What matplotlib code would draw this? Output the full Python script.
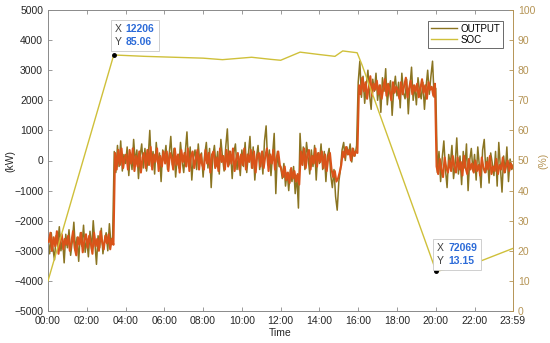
import numpy as np
import matplotlib
matplotlib.use('Agg')
import matplotlib.pyplot as plt
from matplotlib.offsetbox import TextArea, HPacker, VPacker, AnnotationBbox

plt.rcParams['font.family'] = ['Liberation Sans', 'DejaVu Sans']

# ---------------- data ----------------
SAMPLE_S = 300  # 5-minute samples

# OUTPUT (kW), one row per hour, 12 samples each
output_kw = [
    -2650, -3100, -2400, -2900, -3300, -2500, -2800, -2200, -3000, -2600, -3400, -2450,
    -2900, -2300, -3150, -2700, -2050, -3000, -2550, -3350, -2400, -2850, -2150, -3050,
    -2600, -3200, -2350, -2950, -2000, -2750, -3450, -2500, -2900, -2250, -3100, -2650,
    -2400, -3000, -2100, -2800, -2550, 300, -400, 500, -200, 650, -350, 200,
    -100, 450, -500, 250, -300, 700, -50, 350, -600, 150, 550, -250,
    400, -350, 100, 1000, -200, 300, -450, 600, -100, 250, -700, 350,
    50, 500, -300, 200, 800, -150, 400, -550, 150, -250, 600, 0,
    -400, 300, 950, -200, 450, -650, 100, 350, -300, 550, -100, 250,
    -550, 200, 600, -250, 400, -900, 150, 500, -200, 300, -450, 700,
    100, -350, 450, 1050, -150, 300, -600, 250, 550, -300, 150, -500,
    350, -200, 600, -400, 200, 800, -250, 450, -650, 100, 500, -300,
    250, -450, 650, 1150, -150, 350, -500, 200, 900, -1100, 300, -200,
    -200, -600, -100, -850, -400, -1000, -300, -700, -200, -1100, -500, -1580,
    900, -100, 450, -300, 600, 100, -450, 350, -200, 500, -650, 250,
    -100, 550, -300, 300, -700, 150, 400, -500, -900, -300, -1200, -1650,
    -700, -300, 350, 600, 0, 450, 200, 550, -50, 400, 150, 500,
    2600, 3300, 2100, 2800, 1900, 2500, 3000, 2200, 1700, 2700, 2300, 2900,
    2000, 2500, 1600, 2750, 2300, 3050, 1850, 2400, 2650, 1500, 2350, 2800,
    2150, 2600, 1750, 2900, 2250, 2050, 2700, 1550, 2450, 3100, 2000, 2500,
    1850, 2750, 2300, 2050, 2600, 1700, 2450, 3000, 2200, 2800, 3300, 2100,
    2400, -400, 300, -700, 100, 650, -300, -900, 200, -150, 500, -600,
    -100, 750, -450, 150, -800, 300, -250, 550, -1000, 0, 400, -350,
    200, -650, 450, -200, -900, 350, 700, -400, 100, -750, 250, -100,
    -500, 300, -850, 600, -200, -1050, 150, -400, 450, -700, 50, -300,
    -150,
]

# second (red) trace, samples offset by half a step
output_ref_kw = [
    -2700, -2400, -3000, -2550, -2850, -2350, -3100, -2650, -2450, -2950, -2600, -2800,
    -2500, -3000, -2700, -2350, -2900, -3150, -2550, -2800, -2400, -3050, -2650, -2450,
    -2900, -2500, -2750, -3100, -2400, -2850, -2600, -3000, -2350, -2700, -2950, -2500,
    -2750, -2450, -2950, -2600, -2800, 250, -300, 350, -150, 400, -250, 100,
    200, -300, 350, -100, 400, -350, 150, -200, 300, -400, 100, 250,
    -250, 350, -150, 450, -300, 200, -50, 400, -350, 150, -200, 300,
    -100, 300, -350, 250, 100, -300, 400, -150, 200, -400, 350, -50,
    250, -200, 400, -350, 150, 300, -250, 50, 350, -300, 200, -150,
    -300, 350, -100, 250, -400, 200, 300, -250, 100, -350, 400, -50,
    150, -300, 350, -200, 300, -100, 400, -350, 50, 250, -300, 200,
    -150, 400, -300, 200, -50, 350, -250, 300, -400, 150, 250, -200,
    300, -250, 150, 400, -350, 200, -100, 350, -300, 100, 300, -150,
    -300, -550, -200, -650, -400, -750, -250, -600, -350, -700, -450, -800,
    300, -150, 400, -250, 200, 350, -300, 150, -100, 400, -200, 250,
    -50, 300, -250, 200, -350, 100, 250, -300, -550, -350, -700, -600,
    -400, -150, 300, 100, 450, 200, 350, 0, 400, 150, 300, 250,
    2500, 2200, 2750, 2300, 2600, 2050, 2450, 2800, 2150, 2550, 2350, 2650,
    2200, 2500, 2050, 2400, 2700, 2150, 2550, 2300, 2000, 2600, 2250, 2450,
    2350, 2050, 2600, 2200, 2500, 2750, 2100, 2400, 2650, 2200, 2500, 2300,
    2550, 2100, 2400, 2700, 2250, 2500, 2050, 2600, 2350, 2450, 2150, 2550,
    -200, -450, 50, -300, -550, 100, -250, -400, 0, -350, 150, -200,
    -400, 100, -300, -50, -500, 150, -250, -450, 50, -300, -100, -400,
    0, -350, -150, -500, 100, -250, -400, -50, -300, 150, -450, -200,
    -350, 50, -450, -150, -300, 100, -400, -200, 0, -350, -100, -250,
]

# SOC (%) breakpoints
soc_time_s = [0, 12206, 18000, 25200, 28800, 32400, 37800, 41400, 43200,
              46800, 50400, 53280, 54720, 57400, 58320, 72069, 79900, 86340]
soc_pct = [10.0, 85.06, 84.6, 84.2, 84.0, 83.5, 84.3, 83.6, 83.3,
           86.0, 85.2, 84.6, 86.4, 85.8, 81.7, 13.15, 16.3, 20.8]

tick_seconds = [0, 7200, 14400, 21600, 28800, 36000, 43200, 50400, 57600,
                64800, 72000, 79200, 86340]
tick_labels = ['00:00', '02:00', '04:00', '06:00', '08:00', '10:00', '12:00',
               '14:00', '16:00', '18:00', '20:00', '22:00', '23:59']

datatips = [(12206, 85.06, '12206', '85.06', (15, 14)),
            (72069, 13.15, '72069', '13.15', (15, 12))]

# ---------------- style ----------------
C_OUT = '#8A7421'
C_RED = '#D95319'
C_SOC = '#CFC03A'
C_RIGHT = '#B59455'
FS = 7.5

t_out = np.minimum(np.arange(len(output_kw)) * SAMPLE_S, 86340)
t_ref = np.arange(len(output_ref_kw)) * SAMPLE_S + SAMPLE_S / 2

fig = plt.figure(figsize=(5.5, 3.43), dpi=100)
ax1 = fig.add_axes([48 / 550, 32 / 343, 465 / 550, 301 / 343])
ax2 = ax1.twinx()

l_out, = ax1.plot(t_out, output_kw, color=C_OUT, lw=1.1, zorder=2)
ax1.plot(t_ref, output_ref_kw, color=C_RED, lw=1.5, zorder=3)
l_soc, = ax2.plot(soc_time_s, soc_pct, color=C_SOC, lw=1.0, zorder=3)

ax1.set_xlim(0, 86340)
ax1.set_ylim(-5000, 5000)
ax2.set_ylim(0, 100)
ax1.set_yticks(np.arange(-5000, 5001, 1000))
ax2.set_yticks(np.arange(0, 101, 10))
ax1.set_xticks(tick_seconds)
ax1.set_xticklabels(tick_labels)

ax1.tick_params(axis='both', direction='in', length=3, width=0.6,
                labelsize=FS, colors='#8a8a8a', labelcolor='#262626',
                top=True, right=False)
ax2.tick_params(axis='y', direction='in', length=3, width=0.6,
                labelsize=FS, colors=C_RIGHT)

for s in ['left', 'bottom', 'top']:
    ax1.spines[s].set_color('#8a8a8a')
    ax1.spines[s].set_linewidth(0.7)
    ax2.spines[s].set_visible(False)
ax1.spines['right'].set_visible(False)
ax2.spines['right'].set_color(C_RIGHT)
ax2.spines['right'].set_linewidth(0.7)

fig.text(10 / 550, 1 - 161 / 343, '(kW)', rotation=90, ha='center', va='center',
         fontsize=FS, color='#262626')
fig.text(543 / 550, 1 - 161 / 343, '(%)', rotation=90, ha='center', va='center',
         fontsize=FS, color=C_RIGHT)
fig.text(280 / 550, 1 - 333 / 343, 'Time', ha='center', va='center',
         fontsize=FS, color='#262626')

leg = ax2.legend([l_out, l_soc], ['OUTPUT', 'SOC'], loc='upper right',
                 fontsize=7, frameon=True, fancybox=False, handlelength=2.7,
                 borderpad=0.3, labelspacing=0.1, handletextpad=0.4,
                 bbox_to_anchor=(0.99, 0.98))
leg.get_frame().set_edgecolor('#262626')
leg.get_frame().set_linewidth(0.6)
for h in leg.get_lines():
    h.set_linewidth(1.0)

for x, y, xs, ys, off in datatips:
    ax2.plot([x], [y], 'o', color='black', ms=2.5, zorder=6)
    row1 = HPacker(children=[TextArea('X', textprops=dict(color='#404040', fontsize=7.5)),
                             TextArea(xs, textprops=dict(color='#2C6BD8', fontsize=7.5,
                                                         fontweight='bold'))],
                   pad=0, sep=3)
    row2 = HPacker(children=[TextArea('Y', textprops=dict(color='#404040', fontsize=7.5)),
                             TextArea(ys, textprops=dict(color='#2C6BD8', fontsize=7.5,
                                                         fontweight='bold'))],
                   pad=0, sep=3)
    box = VPacker(children=[row1, row2], pad=0, sep=2, align='left')
    ab = AnnotationBbox(box, (x, y), xycoords='data', xybox=off,
                        boxcoords='offset points', frameon=True, pad=0.35,
                        bboxprops=dict(edgecolor='#c8c8c8', facecolor='white',
                                       linewidth=0.6, boxstyle='square'))
    ab.set_zorder(7)
    ax2.add_artist(ab)

fig.savefig('out.png', dpi=100)
